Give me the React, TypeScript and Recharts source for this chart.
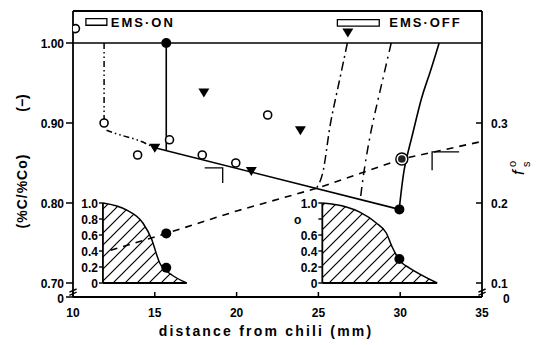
import React from 'react'
import {
  ComposedChart,
  Line,
  Area,
  Scatter,
  XAxis,
  YAxis,
  ReferenceLine,
  ReferenceArea,
} from 'recharts'

const W = 546
const H = 345
const FONT = '"Liberation Sans", Arial, sans-serif'

// main axis range (left axis units, right axis = left - 0.6)
const Y_MIN = 0.6825
const Y_MAX = 1.04

const xTicks = [10, 15, 20, 25, 30, 35]
const leftTicks = [Y_MIN, 0.7, 0.8, 0.9, 1.0]
const leftTickLabels = ['0', '0.70', '0.80', '0.90', '1.00']
const rightTicks = [Y_MIN, 0.7, 0.8, 0.9]
const rightTickLabels = ['0', '0.1', '0.2', '0.3']

// measured points
const openCircles = [
  { x: 10.15, y: 1.018 },
  { x: 11.9, y: 0.9 },
  { x: 13.95, y: 0.86 },
  { x: 15.9, y: 0.879 },
  { x: 17.9, y: 0.86 },
  { x: 19.95, y: 0.85 },
  { x: 21.9, y: 0.91 },
]
const triangles = [
  { x: 15.0, y: 0.869 },
  { x: 18.0, y: 0.938 },
  { x: 20.9, y: 0.84 },
  { x: 23.9, y: 0.891 },
  { x: 26.8, y: 1.013 },
]
const filledDots = [
  { x: 15.7, y: 1.0 },
  { x: 15.7, y: 0.762 },
  { x: 15.7, y: 0.719 },
  { x: 29.95, y: 0.792 },
  { x: 29.95, y: 0.73 },
]
const ringDots = [{ x: 30.1, y: 0.855 }]

// lines
const onDrop = [{ x: 11.9, y: 1.0 }, { x: 11.9, y: 0.9 }]
const onCurve = [
  { x: 12.05, y: 0.891 },
  { x: 12.9, y: 0.885 },
  { x: 13.9, y: 0.879 },
  { x: 14.9, y: 0.87 },
]
const solidDrop = [{ x: 15.7, y: 1.0 }, { x: 15.7, y: 0.865 }]
const solidSlope = [{ x: 15.0, y: 0.869 }, { x: 29.95, y: 0.792 }]
const fsLine = [
  { x: 12.3, y: 0.741 },
  { x: 15.7, y: 0.762 },
  { x: 20, y: 0.79 },
  { x: 25, y: 0.819 },
  { x: 30.1, y: 0.855 },
  { x: 35, y: 0.877 },
]
const offCurveA = [
  { x: 26.77, y: 1.0 },
  { x: 26.16, y: 0.941 },
  { x: 25.67, y: 0.891 },
  { x: 25.3, y: 0.841 },
  { x: 24.87, y: 0.818 },
]
const offCurveB = [
  { x: 29.45, y: 1.0 },
  { x: 28.78, y: 0.941 },
  { x: 28.23, y: 0.891 },
  { x: 27.8, y: 0.841 },
  { x: 27.56, y: 0.804 },
]
const offCurveC = [
  { x: 32.38, y: 1.0 },
  { x: 31.77, y: 0.96 },
  { x: 31.28, y: 0.929 },
  { x: 30.67, y: 0.879 },
  { x: 30.24, y: 0.841 },
  { x: 29.94, y: 0.792 },
]

// small axis-pointer arrows
const arrowLeft = [{ x: 18.05, y: 0.844 }, { x: 19.15, y: 0.844 }, { x: 19.15, y: 0.825 }]
const arrowRight = [{ x: 33.6, y: 0.864 }, { x: 31.95, y: 0.864 }, { x: 31.95, y: 0.841 }]

// insets (own 0..1 scale sitting on 0.70..0.80 of the main axis)
const inset1X = [11.83, 13.29, 14.27, 14.82, 15.12, 15.3, 15.67, 16.04, 16.95]
const inset1V = [1.0, 0.91, 0.75, 0.54, 0.35, 0.25, 0.16, 0.1, 0]
const inset2X = [25.24, 26.71, 27.5, 28.54, 29.15, 29.51, 29.76, 30.12, 30.55, 32.26]
const inset2V = [1.0, 0.95, 0.89, 0.75, 0.625, 0.45, 0.35, 0.25, 0.19, 0]
const insetTicks = [0, 0.2, 0.4, 0.6, 0.8, 1.0]
const inset1Labels = ['0', '0.2', '0.4', '0.6', '0.8', '1.0']
const inset2Labels = ['0', '0.2', '0.4', '0.6', 'o', '1.0']

const toMain = (v: number) => 0.7 + v * 0.1
const inset1 = inset1X.map((x, i) => ({ x, y: toMain(inset1V[i]) }))
const inset2 = inset2X.map((x, i) => ({ x, y: toMain(inset2V[i]) }))
const inset1TickData = insetTicks.map((v, i) => ({ x: inset1X[0], y: toMain(v), label: inset1Labels[i] }))
const inset2TickData = insetTicks.map((v, i) => ({ x: inset2X[0], y: toMain(v), label: inset2Labels[i] }))

const txt = { fontFamily: FONT, fontWeight: 700, fill: '#000' }

const OpenCircle = (p: any) => (
  <circle cx={p.cx} cy={p.cy} r={4} fill="#fff" stroke="#000" strokeWidth={1.6} />
)
const Triangle = (p: any) => (
  <path d={`M${p.cx - 5.5},${p.cy - 4} L${p.cx + 5.5},${p.cy - 4} L${p.cx},${p.cy + 5} Z`} fill="#000" />
)
const FilledDot = (p: any) => <circle cx={p.cx} cy={p.cy} r={5} fill="#000" />
const RingDot = (p: any) => (
  <g>
    <circle cx={p.cx} cy={p.cy} r={6} fill="#fff" stroke="#000" strokeWidth={1.4} />
    <circle cx={p.cx} cy={p.cy} r={3.8} fill="#222" />
  </g>
)
const InsetTick = (p: any) => {
  const lab = p.payload?.label
  const dx = lab === 'o' ? -16 : 0
  return (
    <g>
      <line x1={p.cx - 4} y1={p.cy} x2={p.cx} y2={p.cy} stroke="#000" strokeWidth={1.4} />
      <text x={p.cx - 5 + dx} y={p.cy + 4.5} textAnchor="end" fontSize={12} {...txt}>
        {lab}
      </text>
    </g>
  )
}

function XTick(p: any) {
  const { x, y, payload } = p
  return (
    <g>
      <line x1={x} y1={y} x2={x} y2={y - 5} stroke="#000" strokeWidth={1.5} />
      <text x={x} y={y + 19.5} textAnchor="middle" fontSize={12} {...txt}>
        {payload.value}
      </text>
    </g>
  )
}

function LeftTick(p: any) {
  const { x, y, payload } = p
  const i = leftTicks.indexOf(payload.value)
  return (
    <g>
      <line x1={x + 2} y1={y} x2={x + 9} y2={y} stroke="#000" strokeWidth={1.5} />
      <text x={x} y={y + (i === 0 ? 6 : 4.5)} textAnchor="end" fontSize={12} {...txt}>
        {leftTickLabels[i]}
      </text>
    </g>
  )
}

function RightTick(p: any) {
  const { x, y, payload } = p
  const i = rightTicks.indexOf(payload.value)
  const lab = rightTickLabels[i]
  return (
    <g>
      {i > 0 && <line x1={x - 6} y1={y} x2={x} y2={y} stroke="#000" strokeWidth={1.5} />}
      <text x={x + (i === 0 ? 21 : 9)} y={y + (i === 0 ? 6 : 4.5)} textAnchor="start" fontSize={12} {...txt}>
        {lab}
      </text>
    </g>
  )
}

const lineProps = {
  dot: false,
  isAnimationActive: false,
  stroke: '#000',
  dataKey: 'y',
  type: 'linear' as const,
}

export default function App() {
  return (
    <div style={{ position: 'absolute', left: 0, top: 0, width: W, height: H, background: '#fff' }}>
      <ComposedChart width={W} height={H} margin={{ top: 11, right: 0, bottom: 0, left: 0 }}>
        <defs>
          <pattern id="hatch" patternUnits="userSpaceOnUse" width="12" height="12">
            <path d="M-3,15 L15,-3 M-3,3 L3,-3 M9,15 L15,9" stroke="#000" strokeWidth="1.2" />
          </pattern>
        </defs>
        <XAxis
          dataKey="x"
          type="number"
          domain={[10, 35]}
          ticks={xTicks}
          interval={0}
          allowDataOverflow
          height={48}
          tickSize={0}
          tickMargin={0}
          tickLine={false}
          tick={XTick}
          axisLine={{ stroke: '#000', strokeWidth: 1.8 }}
        />
        <YAxis
          dataKey="y"
          type="number"
          domain={[Y_MIN, Y_MAX]}
          ticks={leftTicks}
          interval={0}
          allowDataOverflow
          width={73}
          tickSize={0}
          tickMargin={9}
          tickLine={false}
          tick={LeftTick}
          axisLine={{ stroke: '#000', strokeWidth: 1.8 }}
        />
        <YAxis
          yAxisId="r"
          orientation="right"
          dataKey="y"
          type="number"
          domain={[Y_MIN, Y_MAX]}
          ticks={rightTicks}
          interval={0}
          allowDataOverflow
          width={64}
          tickSize={0}
          tickMargin={0}
          tickLine={false}
          tick={RightTick}
          axisLine={{ stroke: '#000', strokeWidth: 1.8 }}
        />

        {/* frame top + EMS bars */}
        <ReferenceLine y={Y_MAX} stroke="#000" strokeWidth={1.8} />
        <ReferenceLine y={1.0} stroke="#000" strokeWidth={1.5} />
        <ReferenceArea
          x1={10.79}
          x2={12.07}
          y1={1.0222}
          y2={1.0305}
          fill="#fff"
          fillOpacity={1}
          stroke="#000"
          strokeWidth={1.3}
          label={{ value: 'EMS·ON', position: 'right', offset: 4, fontSize: 13, fontWeight: 700, fill: '#000', fontFamily: FONT, letterSpacing: 2 }}
        />
        <ReferenceArea
          x1={26.16}
          x2={28.72}
          y1={1.021}
          y2={1.0293}
          fill="#fff"
          fillOpacity={1}
          stroke="#000"
          strokeWidth={1.3}
          label={{ value: 'EMS·OFF', position: 'right', offset: 10, fontSize: 13, fontWeight: 700, fill: '#000', fontFamily: FONT, letterSpacing: 2 }}
        />

        {/* axis breaks */}
        <ReferenceLine segment={[{ x: 9.78, y: 0.6885 }, { x: 10.22, y: 0.6925 }]} stroke="#000" strokeWidth={1.4} ifOverflow="visible" />
        <ReferenceLine segment={[{ x: 9.78, y: 0.6845 }, { x: 10.22, y: 0.6885 }]} stroke="#000" strokeWidth={1.4} ifOverflow="visible" />
        <ReferenceLine segment={[{ x: 34.78, y: 0.6885 }, { x: 35.22, y: 0.6925 }]} stroke="#000" strokeWidth={1.4} ifOverflow="visible" />
        <ReferenceLine segment={[{ x: 34.78, y: 0.6845 }, { x: 35.22, y: 0.6885 }]} stroke="#000" strokeWidth={1.4} ifOverflow="visible" />

        {/* insets */}
        <Area
          data={inset1}
          dataKey="y"
          type="monotone"
          baseValue={0.7}
          stroke="#000"
          strokeWidth={1.5}
          fill="url(#hatch)"
          fillOpacity={1}
          isAnimationActive={false}
          dot={false}
        />
        <Area
          data={inset2}
          dataKey="y"
          type="monotone"
          baseValue={0.7}
          stroke="#000"
          strokeWidth={1.5}
          fill="url(#hatch)"
          fillOpacity={1}
          isAnimationActive={false}
          dot={false}
        />
        <ReferenceLine segment={[{ x: inset1X[0], y: 0.7 }, { x: inset1X[0], y: 0.8 }]} stroke="#000" strokeWidth={1.8} />
        <ReferenceLine segment={[{ x: inset1X[0], y: 0.7 }, { x: inset1X[inset1X.length - 1], y: 0.7 }]} stroke="#000" strokeWidth={1.8} />
        <ReferenceLine segment={[{ x: inset2X[0], y: 0.7 }, { x: inset2X[0], y: 0.8 }]} stroke="#000" strokeWidth={1.8} />
        <ReferenceLine segment={[{ x: inset2X[0], y: 0.7 }, { x: inset2X[inset2X.length - 1], y: 0.7 }]} stroke="#000" strokeWidth={1.8} />

        {/* lines */}
        <Line {...lineProps} data={onDrop} strokeWidth={1.5} strokeDasharray="6 3 1.5 3 1.5 3" />
        <Line {...lineProps} data={onCurve} type="natural" strokeWidth={1.5} strokeDasharray="6 3 1.5 3 1.5 3" />
        <Line {...lineProps} data={solidDrop} strokeWidth={1.6} />
        <Line {...lineProps} data={solidSlope} strokeWidth={1.6} />
        <Line {...lineProps} data={fsLine} strokeWidth={1.6} strokeDasharray="7 6" />
        <Line {...lineProps} data={offCurveA} type="natural" strokeWidth={1.5} strokeDasharray="9 4 2 4" />
        <Line {...lineProps} data={offCurveB} type="natural" strokeWidth={1.5} strokeDasharray="9 5 2 5" />
        <Line {...lineProps} data={offCurveC} type="natural" strokeWidth={1.6} />
        <Line {...lineProps} data={arrowLeft} strokeWidth={1.3} />
        <Line {...lineProps} data={arrowRight} strokeWidth={1.3} />

        {/* markers */}
        <Scatter data={inset1TickData} dataKey="y" shape={InsetTick} isAnimationActive={false} />
        <Scatter data={inset2TickData} dataKey="y" shape={InsetTick} isAnimationActive={false} />
        <Scatter data={openCircles} dataKey="y" shape={OpenCircle} isAnimationActive={false} />
        <Scatter data={triangles} dataKey="y" shape={Triangle} isAnimationActive={false} />
        <Scatter data={filledDots} dataKey="y" shape={FilledDot} isAnimationActive={false} />
        <Scatter data={ringDots} dataKey="y" shape={RingDot} isAnimationActive={false} />
      </ComposedChart>

      <svg
        width={W}
        height={H}
        style={{ position: 'absolute', left: 0, top: 0, pointerEvents: 'none' }}
      >
        <text transform="translate(27,191) rotate(-90)" textAnchor="middle" fontSize={14} letterSpacing={1} {...txt}>
          (%C/%Co)
        </text>
        <text transform="translate(27,103) rotate(-90)" textAnchor="middle" fontSize={14} {...txt}>
          (−)
        </text>
        <text x={266} y={336} textAnchor="middle" fontSize={14} letterSpacing={2.2} {...txt} fontWeight={600}>
          distance from chili (mm)
        </text>
        <g transform="translate(524,175) rotate(-90)">
          <text x={0} y={0} fontSize={17} fontStyle="italic" {...txt} fontWeight={400}>
            f
          </text>
          <text x={8} y={-8} fontSize={11} {...txt} fontWeight={400}>
            o
          </text>
          <text x={8} y={6} fontSize={11} {...txt} fontWeight={400}>
            s
          </text>
        </g>
      </svg>
    </div>
  )
}
